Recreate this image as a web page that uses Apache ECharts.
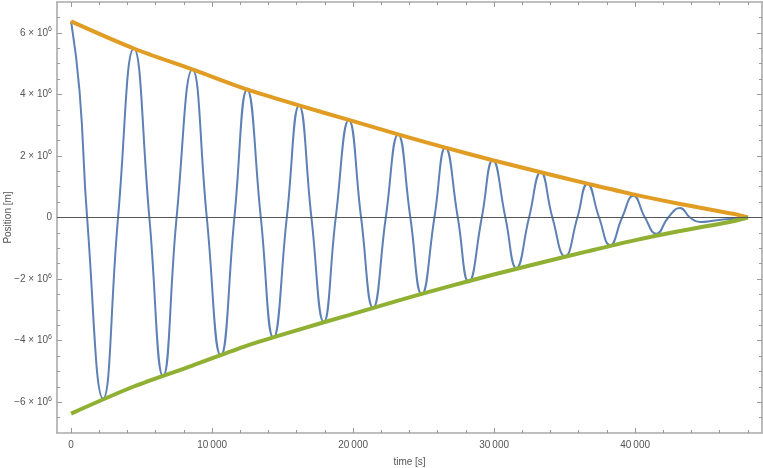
<!DOCTYPE html>
<html>
<head>
<meta charset="utf-8">
<script src="https://cdn.jsdelivr.net/npm/echarts@6/dist/echarts.min.js"></script>
<style>
  html, body { margin: 0; padding: 0; background: #fff; }
</style>
</head>
<body>
<div id="chart" style="width: 763px; height: 468px"></div>
<script>
// blue curve: position vs time (extrema + zero crossings)
const timeS = [0, 600, 1135, 2270, 3330, 4446, 5550, 6525, 7482, 8603, 9624, 10617, 11582, 12482,
  13454, 14348, 15298, 16170, 17045, 17920, 18770, 19695, 20567, 21418, 22319, 23191, 24060,
  24870, 25767, 26546, 27425, 28205, 29128, 29908, 30801, 31582, 32480, 33312, 34135, 35035,
  35908, 36617, 37447, 38230, 39080, 39880, 40700, 41510, 42350, 43190, 43900, 44610, 45790,
  46950, 48000];
const positionM = [6.37e6, 4.1e6, 0, -5.88e6, 0, 5.49e6, 0, -5.16e6, 0, 4.81e6, 0, -4.49e6, 0, 4.16e6,
  0, -3.91e6, 0, 3.64e6, 0, -3.40e6, 0, 3.17e6, 0, -2.94e6, 0, 2.70e6, 0,
  -2.50e6, 0, 2.27e6, 0, -2.10e6, 0, 1.86e6, 0, -1.64e6, 0, 1.47e6, 0, -1.26e6,
  0, 1.10e6, 0, -0.90e6, 0, 0.71e6, 0, -0.53e6, 0, 0.31e6, 0, -0.15e6, -0.09e6,
  -0.04e6, 0];

// envelopes
const envTime = [0, 4446, 8603, 12482, 16170, 19695, 23191, 26546, 29908, 33312, 36617, 39880, 43190, 46950, 48000];
const envUpper = [6.37e6, 5.49e6, 4.81e6, 4.16e6, 3.64e6, 3.17e6, 2.70e6, 2.27e6, 1.86e6, 1.47e6, 1.10e6, 0.75e6, 0.44e6, 0.12e6, 0];
const envLower = [-6.37e6, -5.49e6, -4.81e6, -4.16e6, -3.64e6, -3.17e6, -2.70e6, -2.27e6, -1.86e6, -1.47e6, -1.10e6, -0.75e6, -0.44e6, -0.12e6, 0];

// ticks
const xMajorTicks = [0, 10000, 20000, 30000, 40000];
const xMinorTicks = [2000, 4000, 6000, 8000, 12000, 14000, 16000, 18000, 22000, 24000, 26000, 28000,
  32000, 34000, 36000, 38000, 42000, 44000, 46000, 48000];
const yMajorTicks = [-6e6, -4e6, -2e6, 0, 2e6, 4e6, 6e6];
const yMinorTicks = [-6.5e6, -5.5e6, -5e6, -4.5e6, -3.5e6, -3e6, -2.5e6, -1.5e6, -1e6, -0.5e6,
  0.5e6, 1e6, 1.5e6, 2.5e6, 3e6, 3.5e6, 4.5e6, 5e6, 5.5e6, 6.5e6];

const frameStyle = { color: '#aaaaaa', width: 1.6 };
const tickStyle = { color: '#999999', width: 1 };
const labelFont = { color: '#555', fontSize: 10, fontFamily: 'Liberation Sans, Arial, sans-serif' };

function pairs(xs, ys) {
  return xs.map((x, i) => [x, ys[i]]);
}

function xAxisDef(pos, ticks, len, showLine, showLabel) {
  return {
    type: 'value', gridIndex: 0, position: pos, min: -1000, max: 49000,
    axisLine: { show: showLine, onZero: false, lineStyle: frameStyle },
    axisTick: { show: true, inside: true, length: len, customValues: ticks, lineStyle: tickStyle },
    axisLabel: showLabel ? Object.assign({
      customValues: ticks, margin: 7,
      formatter: v => v === 0 ? '0' : Math.round(v / 1000) + '\u2009000'
    }, labelFont) : { show: false },
    splitLine: { show: false }
  };
}

function yAxisDef(pos, ticks, len, showLine, showLabel) {
  return {
    type: 'value', gridIndex: 0, position: pos, min: -7e6, max: 7e6,
    axisLine: { show: showLine, onZero: false, lineStyle: frameStyle },
    axisTick: { show: true, inside: true, length: len, customValues: ticks, lineStyle: tickStyle },
    axisLabel: showLabel ? {
      customValues: ticks, margin: 5,
      formatter: function (v) {
        if (v === 0) return '{n|0}';
        const m = v / 1e6;
        return '{n|' + (m < 0 ? '\u2212' : '') + Math.abs(m) + ' \u00d7 10}{s|6}';
      },
      rich: {
        n: Object.assign({ lineHeight: 14 }, labelFont),
        s: Object.assign({}, labelFont, { fontSize: 7, verticalAlign: 'top' })
      }
    } : { show: false },
    splitLine: { show: false }
  };
}

const xAxes = [
  xAxisDef('bottom', xMajorTicks, 5, true, true),
  xAxisDef('bottom', xMinorTicks, 3, false, false),
  xAxisDef('top', xMajorTicks, 5, true, false),
  xAxisDef('top', xMinorTicks, 3, false, false)
];
xAxes[0].name = 'time [s]';
xAxes[0].nameLocation = 'middle';
xAxes[0].nameGap = 24;
xAxes[0].nameMoveOverlap = false;
xAxes[0].nameTextStyle = labelFont;

const yAxes = [
  yAxisDef('left', yMajorTicks, 5, true, true),
  yAxisDef('left', yMinorTicks, 3, false, false),
  yAxisDef('right', yMajorTicks, 5, true, false),
  yAxisDef('right', yMinorTicks, 3, false, false)
];
yAxes[0].name = 'Position [m]';
yAxes[0].nameLocation = 'middle';
yAxes[0].nameGap = 44;
yAxes[0].nameMoveOverlap = false;
yAxes[0].nameTextStyle = labelFont;

const myChart = echarts.init(document.getElementById('chart'));
const option = {
  animation: false,
  backgroundColor: '#fff',
  grid: { left: 57, right: 1, top: 2, bottom: 35, containLabel: false, outerBoundsMode: 'none' },
  xAxis: xAxes,
  yAxis: yAxes,
  series: [
    {
      name: 'position',
      type: 'line',
      xAxisIndex: 0, yAxisIndex: 0,
      showSymbol: false,
      smooth: 0.5,
      lineStyle: { color: '#5e81b5', width: 2 },
      data: pairs(timeS, positionM),
      markLine: {
        silent: true,
        symbol: 'none',
        label: { show: false },
        lineStyle: { color: '#555', width: 1, type: 'solid' },
        data: [{ yAxis: 0 }]
      }
    },
    {
      name: 'upper',
      type: 'line',
      xAxisIndex: 0, yAxisIndex: 0,
      showSymbol: false,
      smooth: 0.3,
      lineStyle: { color: '#e19c24', width: 4 },
      data: pairs(envTime, envUpper)
    },
    {
      name: 'lower',
      type: 'line',
      xAxisIndex: 0, yAxisIndex: 0,
      showSymbol: false,
      smooth: 0.3,
      lineStyle: { color: '#8fb032', width: 4 },
      data: pairs(envTime, envLower)
    }
  ]
};
myChart.setOption(option);
</script>
</body>
</html>
